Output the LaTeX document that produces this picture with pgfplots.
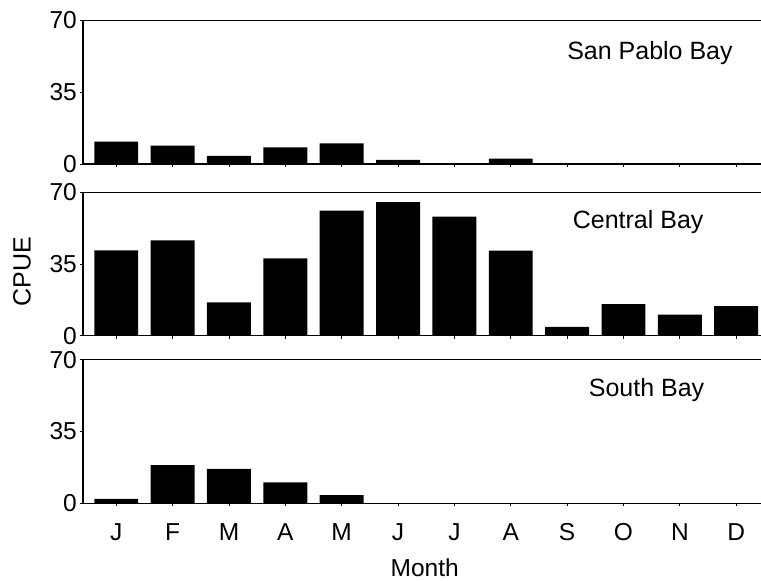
\documentclass[border=0pt]{standalone}
\usepackage{fontspec}
\setmainfont{Liberation Sans}
\usepackage{pgfplots}
\pgfplotsset{compat=1.18}
\pgfplotsset{
  panel/.style={
    scale only axis, width=678pt, height=143.6pt,
    xmin=-0.59, xmax=11.44, ymin=0, ymax=70,
    axis x line*=box, axis y line*=left,
    axis line style={line width=1.2pt, black},
    ytick={0,35,70}, xtick={0,...,11},
    tick align=outside, xtick pos=lower, ytick pos=left,
    major tick length=3pt, tick style={line width=0.8pt, black},
    ybar, bar width=0.78, bar shift=0pt,
    /pgf/number format/assume math mode=true,
    tick label style={font=\fontsize{24.5}{28}\selectfont},
    yticklabel style={inner sep=0pt, xshift=-3pt},
    xticklabel style={inner sep=0pt, yshift=-17pt},
    xticklabels={},
  },
  bars/.style={fill=black, draw=none},
}
\begin{document}
\begin{tikzpicture}
\useasboundingbox (-83pt,164pt) rectangle (678pt,-417pt);
% San Pablo Bay
\begin{axis}[panel, at={(0pt,0pt)}, anchor=south west]
\addplot[bars] coordinates {(0,10.9) (1,8.9) (2,4.0) (3,8.1) (4,10.1) (5,2.0) (6,0) (7,2.6) (8,0) (9,0) (10,0) (11,0)};
\node[font=\fontsize{25}{28}\selectfont] at (axis cs:9.47,54) {San Pablo Bay};
\end{axis}
% Central Bay
\begin{axis}[panel, at={(0pt,-171.7pt)}, anchor=south west,
  ylabel={CPUE},
  every axis y label/.style={at={(axis description cs:-0.09,0.444)}, rotate=90, anchor=center, font=\fontsize{25}{28}\selectfont}]
\addplot[bars] coordinates {(0,41.6) (1,46.5) (2,16.3) (3,37.7) (4,61.0) (5,65.1) (6,58.0) (7,41.5) (8,4.3) (9,15.4) (10,10.3) (11,14.4)};
\node[font=\fontsize{25}{28}\selectfont] at (axis cs:9.26,55.2) {Central Bay};
\end{axis}
% South Bay
\begin{axis}[panel, at={(0pt,-339.3pt)}, anchor=south west,
  xticklabels={J,F,M,A,M,J,J,A,S,O,N,D},
  xlabel={Month},
  every axis x label/.style={at={(axis description cs:0.504,-0.45)}, anchor=center, font=\fontsize{24.5}{28}\selectfont}]
\addplot[bars] coordinates {(0,2.1) (1,18.6) (2,16.8) (3,10.2) (4,4.0) (5,0) (6,0) (7,0) (8,0) (9,0) (10,0) (11,0)};
\node[font=\fontsize{25}{28}\selectfont] at (axis cs:9.41,55) {South Bay};
\end{axis}
\end{tikzpicture}
\end{document}
